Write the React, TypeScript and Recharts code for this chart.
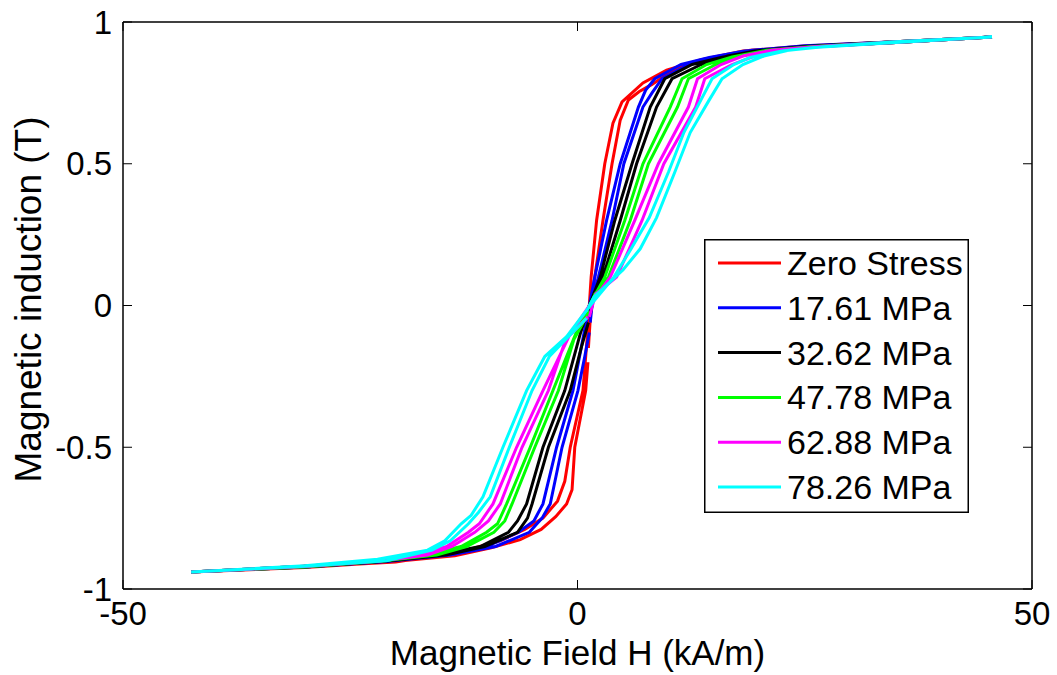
import { Legend, Line, LineChart, XAxis, YAxis } from 'recharts'

const FONT = '"Liberation Sans", Arial, sans-serif'

const X_TICKS = [-50, 0, 50]
const Y_TICKS = [-1, -0.5, 0, 0.5, 1]

const SERIES_NAMES = ['Zero Stress', '17.61 MPa', '32.62 MPa', '47.78 MPa', '62.88 MPa', '78.26 MPa']
const SERIES_COLORS = ['#ff0000', '#0000ff', '#000000', '#00ff00', '#ff00ff', '#00ffff']

// Each loop in drawing order: from near the origin up the
// rising branch to saturation, down the falling branch, then back up to the origin.
const ZERO_H = [
  1.2, 1.5, 1.9, 2.8, 3.8, 4.7, 5.6, 6.8, 8.2, 10.5, 14.2, 19, 25, 35, 45.6,
  35, 25, 18.2, 13.5, 9.8, 7.2, 4.9, 3.9, 3.0, 2.1, 1.5, 1.3, 1.1, 0.6, -0.8, -1.4, -2.2, -3.8, -5.8, -8.5, -13, -20, -30, -42.5,
  -30, -21, -13.5, -9.5, -6.3, -4.0, -2.4, -1.2, -0.6, -0.3, 0.9, 1.15,
]
const ZERO_B = [
  -0.15, 0, 0.1, 0.3, 0.5, 0.654, 0.725, 0.755, 0.78, 0.83, 0.87, 0.9, 0.915, 0.93, 0.947,
  0.928, 0.912, 0.898, 0.866, 0.83, 0.785, 0.718, 0.643, 0.5, 0.3, 0.1, 0, -0.1, -0.3, -0.5, -0.62, -0.69, -0.75, -0.79, -0.83, -0.87, -0.905, -0.922, -0.94,
  -0.924, -0.906, -0.883, -0.855, -0.826, -0.79, -0.745, -0.7, -0.65, -0.5, -0.3, -0.2,
]

const MPA17_H = [
  1.4, 1.7, 2.3, 3.8, 5.1, 7.2, 8.2, 9.3, 12.2, 15.5, 19.2, 25, 35, 45.6,
  35, 25, 18.4, 14.5, 11.4, 8.5, 7.5, 6.7, 4.7, 3.2, 1.9, 1.3, 0.7, -0.5, -2.3, -3.8, -4.8, -6.5, -10, -14.5, -20.5, -30, -42.5,
  -30, -21, -14, -9, -5.3, -3.9, -3.0, -1.7, 0.05, 0.8, 1.3,
]
const MPA17_B = [
  -0.06, 0.03, 0.1, 0.3, 0.5, 0.7, 0.75, 0.8, 0.85, 0.88, 0.9, 0.916, 0.93, 0.947,
  0.928, 0.913, 0.898, 0.875, 0.85, 0.8, 0.76, 0.7, 0.5, 0.3, 0.1, 0, -0.1, -0.3, -0.5, -0.7, -0.76, -0.8, -0.85, -0.875, -0.9, -0.92, -0.94,
  -0.922, -0.903, -0.88, -0.85, -0.8, -0.75, -0.7, -0.5, -0.3, -0.18, -0.095,
]

const MPA32_H = [
  1.4, 1.8, 2.8, 4.7, 6.5, 8.7, 10.4, 13.6, 16.5, 20.2, 25, 35, 45.6,
  35, 25, 19.5, 15.8, 12.6, 9.6, 8.0, 6.0, 4.1, 2.5, 1.3, 0.3, -1.4, -3.8, -5.6, -6.6, -7.6, -10.7, -15, -21, -30, -42.5,
  -30, -21.5, -14.5, -10.2, -6.6, -5.5, -5.0, -3.2, -0.8, 0.4, 1.2,
]
const MPA32_B = [
  -0.03, 0.03, 0.1, 0.3, 0.5, 0.7, 0.8, 0.85, 0.88, 0.9, 0.914, 0.93, 0.947,
  0.928, 0.912, 0.898, 0.875, 0.85, 0.8, 0.7, 0.5, 0.3, 0.1, 0, -0.1, -0.3, -0.5, -0.7, -0.76, -0.8, -0.85, -0.877, -0.9, -0.92, -0.94,
  -0.922, -0.903, -0.88, -0.85, -0.8, -0.75, -0.7, -0.5, -0.3, -0.15, -0.06,
]

const MPA47_H = [
  1.4, 1.9, 3.4, 5.8, 7.8, 11.0, 12.2, 15.2, 18, 21.2, 25.5, 35, 45.6,
  35, 25, 20.8, 17, 14.2, 11.5, 10.2, 7.2, 5.2, 3.0, 1.3, -0.2, -2.7, -5.2, -7.8, -8.8, -10, -12.8, -16, -21.5, -30, -42.5,
  -30, -22, -15.5, -12.2, -9.2, -8.0, -7.2, -4.7, -2.1, -0.4, 1.3,
]
const MPA47_B = [
  -0.01, 0.04, 0.1, 0.3, 0.5, 0.7, 0.8, 0.85, 0.88, 0.9, 0.913, 0.93, 0.947,
  0.928, 0.911, 0.9, 0.877, 0.85, 0.8, 0.7, 0.5, 0.3, 0.1, 0, -0.1, -0.3, -0.5, -0.7, -0.77, -0.8, -0.85, -0.875, -0.9, -0.92, -0.94,
  -0.922, -0.903, -0.88, -0.85, -0.8, -0.76, -0.7, -0.5, -0.3, -0.12, -0.02,
]

const MPA62_H = [
  1.3, 2.0, 4.3, 7.1, 9.5, 13.0, 14.0, 17, 19.5, 22, 26, 35, 45.6,
  35, 25, 21.3, 18.2, 15.8, 13.2, 12.2, 8.9, 6.3, 3.6, 1.3, -0.8, -3.8, -6.7, -9.3, -10.8, -12, -14.4, -17, -22, -30, -42.5,
  -30, -22, -16.5, -13.8, -11.3, -9.8, -8.5, -6.1, -3.2, -1.3, 1.15,
]
const MPA62_B = [
  -0.04, 0.04, 0.1, 0.3, 0.5, 0.7, 0.8, 0.85, 0.88, 0.9, 0.913, 0.93, 0.947,
  0.928, 0.91, 0.9, 0.88, 0.85, 0.8, 0.7, 0.5, 0.3, 0.1, 0, -0.1, -0.3, -0.5, -0.7, -0.77, -0.8, -0.85, -0.875, -0.9, -0.92, -0.94,
  -0.921, -0.902, -0.88, -0.85, -0.8, -0.76, -0.7, -0.5, -0.3, -0.12, -0.04,
]

const MPA78_H = [
  1.0, 1.8, 5.0, 6.9, 8.7, 10.7, 12.4, 14.4, 15.9, 18.2, 20.5, 23.2, 27, 35, 45.6,
  35, 26, 22.5, 19, 17.2, 14.8, 13.5, 11.7, 10.0, 7.9, 5.9, 4.0, 1.4, -1.2, -3.6, -5.6, -8.2, -10.4, -11.7, -12.8, -14.6, -16.5, -22, -30, -42.5,
  -30, -21, -16, -14, -12, -10.9, -9.6, -7.5, -5.0, -3.1, -1.0, 1.0,
]
const MPA78_B = [
  -0.02, 0.03, 0.125, 0.2, 0.31, 0.47, 0.61, 0.72, 0.8, 0.85, 0.88, 0.9, 0.913, 0.93, 0.947,
  0.928, 0.91, 0.898, 0.875, 0.85, 0.8, 0.72, 0.61, 0.47, 0.31, 0.2, 0.1, 0, -0.11, -0.18, -0.3, -0.5, -0.675, -0.74, -0.77, -0.83, -0.863, -0.895, -0.918, -0.94,
  -0.92, -0.9, -0.863, -0.83, -0.77, -0.73, -0.675, -0.5, -0.3, -0.18, -0.11, -0.045,
]

const LOOPS = [
  [ZERO_H, ZERO_B],
  [MPA17_H, MPA17_B],
  [MPA32_H, MPA32_B],
  [MPA47_H, MPA47_B],
  [MPA62_H, MPA62_B],
  [MPA78_H, MPA78_B],
]

interface LoopPoint { h: number; b: number }

const loopData: LoopPoint[][] = LOOPS.map(([hs, bs]) => hs.map((h, i) => ({ h, b: bs[i] })))

const tickStyle = { fontSize: 33, fill: '#000', fontFamily: FONT }
const axisLineStyle = { stroke: '#000', strokeWidth: 1.5 }
const tickLineStyle = { stroke: '#000', strokeWidth: 1 }

// legend keeps the plotting order (recharts would sort the payload by name)
function LegendBox() {
  return (
    <svg width={265} height={274} style={{ display: 'block' }}>
      <rect x={0.75} y={0.75} width={263.5} height={272.5} fill="#fff" stroke="#000" strokeWidth={1.5} />
      {SERIES_NAMES.map((name, i) => {
        const cy = 24 + i * 44.8
        return (
          <g key={name}>
            <line x1={14} x2={77} y1={cy} y2={cy} stroke={SERIES_COLORS[i]} strokeWidth={3} />
            <text x={83} y={cy + 12} fontSize={34} fontFamily={FONT} fill="#000">
              {name}
            </text>
          </g>
        )
      })}
    </svg>
  )
}

function YLabel(props: { viewBox?: { x: number; y: number; width: number; height: number } }) {
  const vb = props.viewBox ?? { x: 0, y: 22, width: 123, height: 567 }
  const x = vb.x + 41
  const y = vb.y + vb.height / 2 - 6
  return (
    <text x={x} y={y} transform={`rotate(-90, ${x}, ${y})`} textAnchor="middle" fontSize={37} fontFamily={FONT} fill="#000">
      Magnetic induction (T)
    </text>
  )
}

function XLabel(props: { viewBox?: { x: number; y: number; width: number; height: number } }) {
  const vb = props.viewBox ?? { x: 123, y: 589, width: 909, height: 86 }
  const x = vb.x + vb.width / 2
  const y = vb.y + 76
  return (
    <text x={x} y={y} textAnchor="middle" fontSize={35} fontFamily={FONT} fill="#000">
      Magnetic Field H (kA/m)
    </text>
  )
}

export default function App() {
  return (
    <div style={{ position: 'absolute', left: 0, top: 0, background: '#fff' }}>
      <LineChart width={1057} height={675} margin={{ top: 0, right: 0, bottom: 0, left: 0 }}>
        <XAxis
          xAxisId="bottom"
          dataKey="h"
          type="number"
          domain={[-50, 50]}
          ticks={X_TICKS}
          interval={0}
          allowDataOverflow
          height={86}
          tickSize={-9}
          tickMargin={22}
          axisLine={axisLineStyle}
          tickLine={tickLineStyle}
          tick={tickStyle}
          label={<XLabel />}
        />
        <XAxis
          xAxisId="top"
          orientation="top"
          dataKey="h"
          type="number"
          domain={[-50, 50]}
          ticks={X_TICKS}
          interval={0}
          allowDataOverflow
          height={22}
          tickSize={-9}
          axisLine={axisLineStyle}
          tickLine={tickLineStyle}
          tickFormatter={() => ''}
        />
        <YAxis
          yAxisId="left"
          type="number"
          domain={[-1, 1]}
          ticks={Y_TICKS}
          interval={0}
          allowDataOverflow
          width={123}
          tickSize={-9}
          tickMargin={20}
          axisLine={axisLineStyle}
          tickLine={tickLineStyle}
          tick={tickStyle}
          label={<YLabel />}
        />
        <YAxis
          yAxisId="right"
          orientation="right"
          type="number"
          domain={[-1, 1]}
          ticks={Y_TICKS}
          interval={0}
          allowDataOverflow
          width={25}
          tickSize={-9}
          axisLine={axisLineStyle}
          tickLine={tickLineStyle}
          tickFormatter={() => ''}
        />
        {loopData.map((data, i) => (
          <Line
            key={SERIES_NAMES[i]}
            xAxisId="bottom"
            yAxisId="left"
            data={data}
            dataKey="b"
            name={SERIES_NAMES[i]}
            type="linear"
            stroke={SERIES_COLORS[i]}
            strokeWidth={3}
            dot={false}
            activeDot={false}
            isAnimationActive={false}
          />
        ))}
        <Legend
          layout="horizontal"
          verticalAlign="middle"
          align="center"
          wrapperStyle={{ left: 704, top: 239, width: 265, height: 274 }}
          content={<LegendBox />}
        />
      </LineChart>
    </div>
  )
}
